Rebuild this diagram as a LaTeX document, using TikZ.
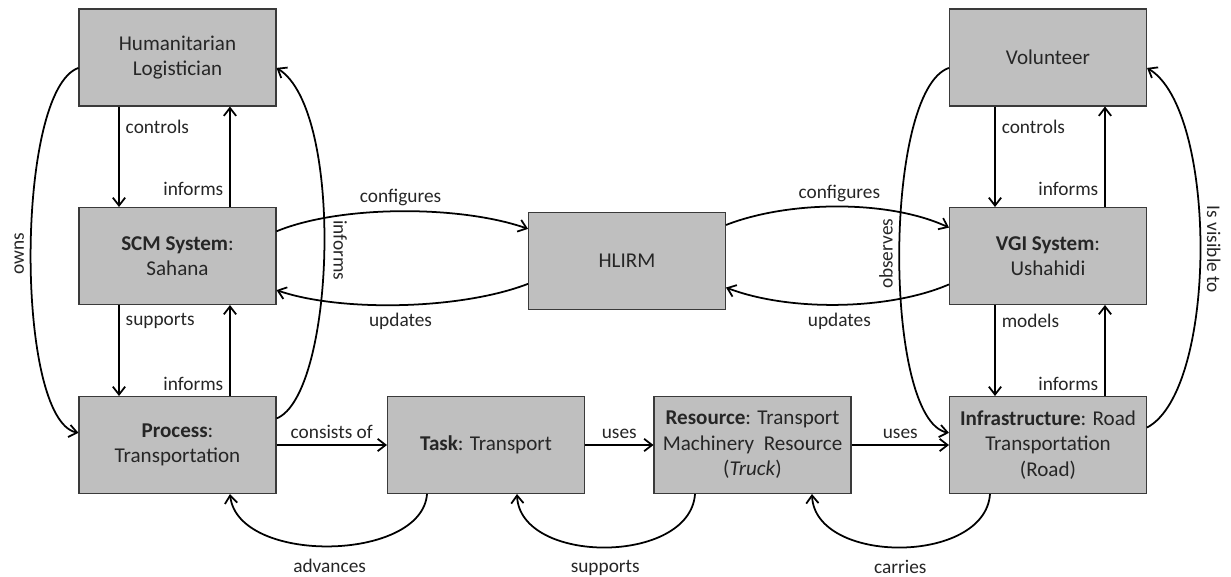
\documentclass[tikz,border=0pt]{standalone}
\usepackage{fontspec}
\setmainfont{Carlito}
\usetikzlibrary{arrows.meta}
\definecolor{boxgray}{HTML}{BFBFBF}
\definecolor{boxline}{HTML}{3A3A3A}
\begin{document}
\begin{tikzpicture}[x=0.02cm,y=0.02cm,
  box/.style={draw=boxline,fill=boxgray,line width=0.6pt,minimum width=3.94cm,minimum height=1.94cm,
    inner sep=1pt,align=center,font=\fontsize{12}{14.5}\selectfont,text=black!85},
  lbl/.style={font=\fontsize{11}{13}\selectfont,text=black!85},
  every path/.style={line width=1pt},
  >={Straight Barb[length=4.5pt,width=7pt]}]
\useasboundingbox (0,0) rectangle (1231,-576);
% left column
\node[box] (HL) at (177.5,-57.5) {Humanitarian\\Logistician};
\node[box] (SCM) at (177.5,-256) {\textbf{SCM System}:\\Sahana};
\node[box] (PR) at (177.5,-445) {\textbf{Process}:\\Transportation};
% middle
\node[box] (HLIRM) at (627,-261) {HLIRM};
\node[box] (TK) at (486,-445) {\textbf{Task}: Transport};
\node[box] (RS) at (752.5,-445) {\textbf{Resource}: Transport\\Machinery~~Resource\\(\textit{Truck})};
% right column
\node[box] (VOL) at (1048,-57.5) {Volunteer};
\node[box] (VGI) at (1048,-256) {\textbf{VGI System}:\\Ushahidi};
\node[box] (INF) at (1048,-445) {\textbf{Infrastructure}: Road\\Transportation\\(Road)};

\draw[->] ([xshift=-1.17cm]HL.south) -- node[lbl,pos=.2,right] {controls} ([xshift=-1.17cm]SCM.north);
\draw[->] ([xshift=1.05cm]SCM.north) -- node[lbl,pos=.18,left] {informs} ([xshift=1.05cm]HL.south);
\draw[->] ([xshift=-1.17cm]SCM.south) -- node[lbl,pos=.17,right] {supports} ([xshift=-1.17cm]PR.north);
\draw[->] ([xshift=1.05cm]PR.north) -- node[lbl,pos=.13,left] {informs} ([xshift=1.05cm]SCM.south);
\draw[->] ([xshift=-1.06cm]VOL.south) -- node[lbl,pos=.2,right] {controls} ([xshift=-1.06cm]VGI.north);
\draw[->] ([xshift=1.14cm]VGI.north) -- node[lbl,pos=.18,left] {informs} ([xshift=1.14cm]VOL.south);
\draw[->] ([xshift=-1.06cm]VGI.south) -- node[lbl,pos=.17,right] {models} ([xshift=-1.06cm]INF.north);
\draw[->] ([xshift=1.14cm]INF.north) -- node[lbl,pos=.13,left] {informs} ([xshift=1.14cm]VGI.south);

\draw[->] (PR) -- node[lbl,above] {consists of} (TK);
\draw[->] (TK) -- node[lbl,above] {uses} (RS);
\draw[->] (RS) -- node[lbl,above] {uses} (INF);

% HLIRM links
\draw[->] (SCM.14) .. controls (340,-205) and (460,-205) .. node[lbl,above=-1pt] {configures} (HLIRM.162);
\draw[->] (HLIRM.193) .. controls (460,-310) and (340,-312) .. node[lbl,below=1pt] {updates} (SCM.341);
\draw[->] (HLIRM.20) .. controls (790,-200) and (890,-200) .. node[lbl,above=-1pt] {configures} (VGI.164);
\draw[->] (VGI.196) .. controls (890,-310) and (790,-312) .. node[lbl,below=1pt] {updates} (HLIRM.345);

% long arcs
\draw[->] (HL.186) .. controls (15,-90) and (15,-420) .. node[lbl,rotate=90,anchor=south,pos=.5] {owns} (PR.173);
\draw[->] (PR.15) .. controls (335,-395) and (345,-110) .. node[lbl,rotate=-90,anchor=south,outer sep=2pt,pos=.5] {informs} (HL.354);
\draw[->] (VOL.186) .. controls (883,-90) and (883,-420) .. node[lbl,rotate=90,anchor=south,pos=.5] {observes} (INF.173);
\draw[->] (INF.10) .. controls (1218,-390) and (1218,-110) .. node[lbl,rotate=-90,anchor=south,pos=.5] {Is visible to} (VOL.354);

% bottom arcs
\draw[->] ([xshift=-1.18cm]TK.south) .. controls (422,-562) and (238,-565) .. node[lbl,below=3.5pt] {advances} ([xshift=1.05cm]PR.south);
\draw[->] ([xshift=-1.15cm]RS.south) .. controls (690,-565) and (520,-565) .. node[lbl,below=3.5pt] {supports} ([xshift=0.62cm]TK.south);
\draw[->] ([xshift=-1.16cm]INF.south) .. controls (985,-565) and (815,-565) .. node[lbl,below=3.5pt] {carries} ([xshift=1.19cm]RS.south);
%\draw[help lines] (0,0) grid[step=50] (1231,-576);
\end{tikzpicture}
\end{document}
